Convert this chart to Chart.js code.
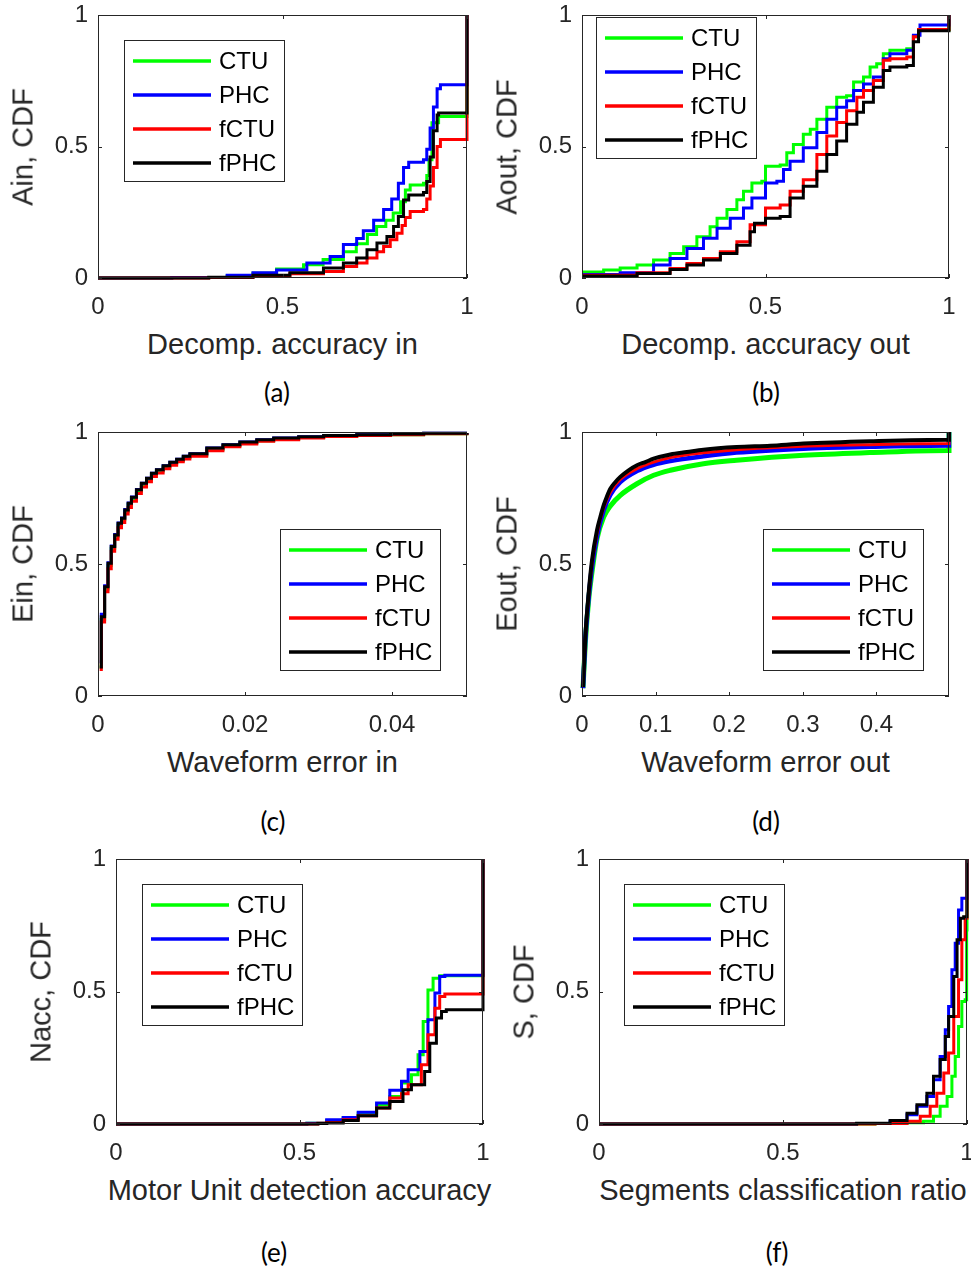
<!DOCTYPE html>
<html>
<head>
<meta charset="utf-8">
<script src="https://cdn.jsdelivr.net/npm/chart.js@4.4.1/dist/chart.umd.min.js"></script>
<style>
  html, body { margin: 0; padding: 0; background: #fff; overflow: hidden; }
  body { width: 971px; height: 1268px; position: relative; }
  canvas { position: absolute; }
  .xlbl, .ylbl { position: absolute; font-family: "Liberation Sans", Arial, sans-serif; font-size: 29px;
    line-height: 29px; color: #262626; white-space: nowrap; transform: translate(-50%, -50%); }
  .ylbl { transform: translate(-50%, -50%) rotate(-90deg); }
  .cap { position: absolute; font-family: Lato, "Open Sans", sans-serif; font-size: 26px; line-height: 26px;
    color: #000; white-space: nowrap; transform: translate(-50%, -50%); }
</style>
</head>
<body>
<script>
// series shared by all panels
const seriesNames = ['CTU', 'PHC', 'fCTU', 'fPHC'];

// (a) decomposition accuracy in, [x, cdf]
const aCTU = [[0,0],[0.2,0.002],[0.35,0.008],[0.42,0.018],[0.484,0.034],[0.557,0.05],[0.61,0.07],[0.665,0.1],[0.7,0.13],[0.73,0.165],[0.755,0.196],[0.78,0.22],[0.8,0.247],[0.82,0.29],[0.833,0.335],[0.846,0.354],[0.882,0.36],[0.891,0.39],[0.897,0.45],[0.905,0.59],[0.923,0.614],[1,1]];
const aPHC = [[0,0],[0.2,0.002],[0.35,0.01],[0.42,0.02],[0.484,0.03],[0.566,0.057],[0.629,0.082],[0.665,0.127],[0.701,0.15],[0.719,0.18],[0.747,0.22],[0.774,0.26],[0.796,0.3],[0.814,0.36],[0.828,0.42],[0.842,0.44],[0.882,0.45],[0.891,0.49],[0.9,0.57],[0.909,0.65],[0.919,0.72],[0.928,0.735],[1,1]];
const aFCTU = [[0,0],[0.3,0.002],[0.42,0.008],[0.52,0.016],[0.611,0.025],[0.665,0.044],[0.701,0.057],[0.729,0.076],[0.756,0.1],[0.774,0.12],[0.792,0.145],[0.81,0.17],[0.824,0.2],[0.833,0.23],[0.846,0.253],[0.882,0.26],[0.891,0.3],[0.9,0.35],[0.909,0.42],[0.919,0.5],[0.928,0.527],[1,1]];
const aFPHC = [[0,0],[0.3,0.003],[0.42,0.01],[0.52,0.02],[0.611,0.038],[0.665,0.057],[0.701,0.076],[0.729,0.107],[0.756,0.133],[0.783,0.158],[0.801,0.196],[0.814,0.234],[0.828,0.297],[0.842,0.316],[0.882,0.325],[0.891,0.367],[0.9,0.46],[0.909,0.56],[0.919,0.62],[0.923,0.627],[1,1]];

// (b) decomposition accuracy out
const bCTU = [[0,0.023],[0.059,0.03],[0.104,0.038],[0.15,0.049],[0.195,0.068],[0.24,0.093],[0.277,0.119],[0.313,0.157],[0.349,0.195],[0.368,0.227],[0.395,0.26],[0.422,0.298],[0.44,0.33],[0.463,0.361],[0.49,0.368],[0.5,0.425],[0.54,0.43],[0.558,0.476],[0.576,0.508],[0.603,0.547],[0.622,0.566],[0.64,0.604],[0.667,0.649],[0.694,0.687],[0.721,0.693],[0.74,0.745],[0.767,0.764],[0.785,0.802],[0.803,0.815],[0.821,0.853],[0.839,0.866],[0.885,0.872],[0.903,0.917],[0.917,0.943],[1,1]];
const bPHC = [[0,0.013],[0.104,0.02],[0.195,0.049],[0.24,0.074],[0.286,0.112],[0.331,0.151],[0.368,0.189],[0.404,0.227],[0.44,0.266],[0.463,0.304],[0.5,0.361],[0.531,0.368],[0.549,0.413],[0.567,0.444],[0.603,0.495],[0.64,0.553],[0.667,0.604],[0.694,0.649],[0.721,0.674],[0.74,0.713],[0.767,0.738],[0.794,0.764],[0.821,0.834],[0.839,0.853],[0.885,0.866],[0.903,0.923],[0.921,0.962],[1,1]];
const bFCTU = [[0,0.01],[0.15,0.02],[0.24,0.036],[0.286,0.055],[0.331,0.074],[0.377,0.1],[0.422,0.138],[0.458,0.202],[0.5,0.266],[0.54,0.278],[0.567,0.33],[0.603,0.374],[0.64,0.47],[0.667,0.54],[0.694,0.591],[0.721,0.636],[0.749,0.687],[0.767,0.713],[0.794,0.751],[0.821,0.828],[0.839,0.834],[0.885,0.84],[0.903,0.917],[0.917,0.945],[1,1]];
const bFPHC = [[0,0.008],[0.15,0.017],[0.24,0.032],[0.286,0.049],[0.331,0.068],[0.377,0.093],[0.422,0.125],[0.458,0.176],[0.47,0.208],[0.5,0.227],[0.54,0.234],[0.567,0.304],[0.603,0.349],[0.64,0.406],[0.667,0.47],[0.694,0.521],[0.721,0.585],[0.749,0.63],[0.767,0.668],[0.794,0.725],[0.821,0.789],[0.839,0.802],[0.885,0.808],[0.903,0.898],[0.917,0.94],[1,1]];

// (c) waveform error in
const cCTU = [[0.00023,0.11],[0.00045,0.29],[0.0009,0.405],[0.00136,0.495],[0.0018,0.56],[0.00227,0.605],[0.00273,0.648],[0.0032,0.668],[0.00364,0.7],[0.0041,0.725],[0.00455,0.748],[0.00523,0.776],[0.0059,0.801],[0.0066,0.82],[0.00727,0.839],[0.00795,0.852],[0.00886,0.867],[0.00977,0.88],[0.0107,0.892],[0.0116,0.903],[0.0125,0.913],[0.0148,0.934],[0.017,0.948],[0.0193,0.958],[0.0216,0.967],[0.0239,0.973],[0.0273,0.979],[0.0307,0.984],[0.0352,0.988],[0.0398,0.99],[0.0443,0.993],[0.0502,0.995]];
const cPHC = [[0.00023,0.13],[0.00045,0.31],[0.0009,0.418],[0.00136,0.505],[0.0018,0.568],[0.00227,0.612],[0.00273,0.655],[0.0032,0.674],[0.00364,0.706],[0.0041,0.731],[0.00455,0.754],[0.00523,0.782],[0.0059,0.806],[0.0066,0.825],[0.00727,0.844],[0.00795,0.857],[0.00886,0.872],[0.00977,0.885],[0.0107,0.897],[0.0116,0.908],[0.0125,0.918],[0.0148,0.939],[0.017,0.952],[0.0193,0.962],[0.0216,0.971],[0.0239,0.977],[0.0273,0.982],[0.0307,0.987],[0.0352,0.99],[0.0398,0.992],[0.0443,0.995],[0.0502,0.996]];
const cFCTU = [[0.00023,0.1],[0.00045,0.28],[0.0009,0.395],[0.00136,0.482],[0.0018,0.548],[0.00227,0.594],[0.00273,0.637],[0.0032,0.657],[0.00364,0.689],[0.0041,0.714],[0.00455,0.738],[0.00523,0.767],[0.0059,0.792],[0.0066,0.812],[0.00727,0.831],[0.00795,0.845],[0.00886,0.861],[0.00977,0.874],[0.0107,0.887],[0.0116,0.898],[0.0125,0.908],[0.0148,0.929],[0.017,0.944],[0.0193,0.955],[0.0216,0.965],[0.0239,0.971],[0.0273,0.977],[0.0307,0.983],[0.0352,0.987],[0.0398,0.99],[0.0443,0.993],[0.0502,0.995]];
const cFPHC = [[0.00023,0.11],[0.00045,0.3],[0.0009,0.414],[0.00136,0.503],[0.0018,0.566],[0.00227,0.61],[0.00273,0.654],[0.0032,0.673],[0.00364,0.705],[0.0041,0.73],[0.00455,0.753],[0.00523,0.781],[0.0059,0.806],[0.0066,0.825],[0.00727,0.844],[0.00795,0.857],[0.00886,0.872],[0.00977,0.885],[0.0107,0.897],[0.0116,0.908],[0.0125,0.918],[0.0148,0.939],[0.017,0.952],[0.0193,0.962],[0.0216,0.971],[0.0239,0.977],[0.0273,0.982],[0.0307,0.987],[0.0352,0.99],[0.0398,0.992],[0.0443,0.995],[0.0502,0.996]];

// (d) waveform error out
const dCTU = [[0.0014,0.03],[0.0045,0.2],[0.009,0.362],[0.0136,0.47],[0.0204,0.596],[0.0294,0.678],[0.0385,0.72],[0.052,0.76],[0.0747,0.804],[0.0973,0.836],[0.12,0.855],[0.165,0.88],[0.21,0.893],[0.301,0.912],[0.391,0.922],[0.4986,0.93],[0.4986,1]];
const dPHC = [[0.0014,0.03],[0.0045,0.21],[0.009,0.37],[0.0136,0.49],[0.0204,0.605],[0.0294,0.703],[0.0385,0.762],[0.052,0.81],[0.0747,0.852],[0.0973,0.876],[0.12,0.89],[0.165,0.908],[0.21,0.922],[0.301,0.937],[0.391,0.944],[0.4986,0.949],[0.4986,1]];
const dFCTU = [[0.0014,0.034],[0.0045,0.215],[0.009,0.375],[0.0136,0.5],[0.0204,0.615],[0.0294,0.713],[0.0385,0.772],[0.052,0.82],[0.0747,0.861],[0.0973,0.886],[0.12,0.903],[0.165,0.921],[0.21,0.933],[0.301,0.946],[0.391,0.952],[0.4986,0.956],[0.4986,1]];
const dFPHC = [[0.0014,0.034],[0.0045,0.223],[0.009,0.388],[0.0136,0.514],[0.0204,0.628],[0.0249,0.678],[0.0294,0.722],[0.0339,0.756],[0.0385,0.785],[0.0452,0.81],[0.052,0.83],[0.0633,0.855],[0.0747,0.874],[0.086,0.886],[0.0973,0.899],[0.12,0.915],[0.1425,0.924],[0.165,0.933],[0.21,0.943],[0.2557,0.948],[0.301,0.956],[0.391,0.965],[0.4986,0.971],[0.4986,1]];

// (e) motor unit detection accuracy
const eCTU = [[0,0],[0.52,0.003],[0.574,0.013],[0.619,0.023],[0.66,0.041],[0.71,0.073],[0.746,0.104],[0.778,0.155],[0.805,0.186],[0.823,0.261],[0.837,0.387],[0.85,0.506],[0.864,0.55],[0.882,0.559],[1,1]];
const ePHC = [[0,0],[0.52,0.003],[0.574,0.016],[0.619,0.025],[0.66,0.044],[0.71,0.079],[0.746,0.127],[0.778,0.161],[0.796,0.205],[0.828,0.274],[0.85,0.393],[0.869,0.494],[0.882,0.557],[0.896,0.561],[1,1]];
const eFCTU = [[0,0],[0.55,0.003],[0.574,0.006],[0.619,0.016],[0.66,0.031],[0.71,0.06],[0.746,0.098],[0.778,0.114],[0.796,0.148],[0.832,0.224],[0.85,0.337],[0.869,0.437],[0.882,0.481],[0.896,0.491],[1,1]];
const eFPHC = [[0,0],[0.55,0.002],[0.574,0.004],[0.619,0.013],[0.66,0.031],[0.71,0.06],[0.746,0.085],[0.782,0.129],[0.805,0.148],[0.841,0.198],[0.855,0.305],[0.873,0.4],[0.887,0.425],[0.9,0.431],[1,1]];

// (f) segments classification ratio
const fCTU = [[0,0],[0.75,0.002],[0.791,0.003],[0.837,0.005],[0.882,0.01],[0.909,0.029],[0.927,0.067],[0.946,0.104],[0.959,0.18],[0.968,0.255],[0.977,0.368],[0.986,0.462],[0.995,0.469],[0.999,0.732],[1,1]];
const fPHC = [[0,0],[0.7,0.002],[0.791,0.01],[0.837,0.035],[0.864,0.067],[0.891,0.104],[0.909,0.167],[0.927,0.255],[0.941,0.356],[0.95,0.443],[0.959,0.582],[0.968,0.682],[0.977,0.808],[0.986,0.852],[1,1]];
const fFCTU = [[0,0],[0.75,0.002],[0.837,0.01],[0.873,0.029],[0.9,0.067],[0.918,0.116],[0.937,0.192],[0.95,0.268],[0.964,0.406],[0.977,0.544],[0.986,0.695],[0.995,0.776],[1,1]];
const fFPHC = [[0,0],[0.7,0.003],[0.791,0.013],[0.837,0.041],[0.864,0.073],[0.891,0.116],[0.909,0.18],[0.927,0.243],[0.941,0.33],[0.95,0.406],[0.964,0.557],[0.973,0.695],[0.982,0.776],[0.991,0.782],[1,1]];

// axis labels and captions
const xTitles = ['Decomp. accuracy in', 'Decomp. accuracy out', 'Waveform error in', 'Waveform error out', 'Motor Unit detection accuracy', 'Segments classification ratio'];
const yTitles = ['Ain, CDF', 'Aout, CDF', 'Ein, CDF', 'Eout, CDF', 'Nacc, CDF', 'S, CDF'];
const captions = ['(a)', '(b)', '(c)', '(d)', '(e)', '(f)'];
const xMax = [1, 1, 0.0502, 0.4986, 1, 1];
const xStep = [0.5, 0.5, 0.02, 0.1, 0.5, 0.5];
const yTicks = [0, 0.5, 1];

const colors = ['#00ff00', '#0000ff', '#ff0000', '#000000'];
const FONT = '"Liberation Sans", Arial, sans-serif';
const GREY = '#262626';

// plot area in page pixels, legend offset inside the axes, caption position
const panels = [
  { data: [aCTU, aPHC, aFCTU, aFPHC], left: 98, top: 15, w: 369, h: 263, leg: [26, 25], cap: [277, 392], stepped: true },
  { data: [bCTU, bPHC, bFCTU, bFPHC], left: 582, top: 15, w: 367, h: 263, leg: [14, 2], cap: [766, 392], stepped: true },
  { data: [cCTU, cPHC, cFCTU, cFPHC], left: 98, top: 432, w: 369, h: 264, leg: [182, 97], cap: [273, 821], stepped: true },
  { data: [dCTU, dPHC, dFCTU, dFPHC], left: 582, top: 432, w: 367, h: 264, leg: [181, 97], cap: [766, 821], stepped: false, widths: [5, 4.5, 3, 4] },
  { data: [eCTU, ePHC, eFCTU, eFPHC], left: 116, top: 859, w: 367, h: 265, leg: [26, 25], cap: [274, 1252], stepped: true },
  { data: [fCTU, fPHC, fFCTU, fFPHC], left: 599, top: 859, w: 368, h: 265, leg: [25, 25], cap: [777, 1252], stepped: true }
];

// box round the axes with inward ticks on all four sides, like matlab
const axesBox = {
  id: 'axesBox',
  afterDraw(chart) {
    const { ctx, chartArea: a, scales } = chart;
    const tl = 4;
    ctx.save();
    ctx.strokeStyle = GREY;
    ctx.lineWidth = 1;
    ctx.strokeRect(a.left + 0.5, a.top + 0.5, a.right - a.left - 1, a.bottom - a.top - 1);
    ctx.beginPath();
    scales.x.ticks.forEach(t => {
      const px = Math.round(scales.x.getPixelForValue(t.value)) + 0.5;
      ctx.moveTo(px, a.bottom); ctx.lineTo(px, a.bottom - tl);
      ctx.moveTo(px, a.top); ctx.lineTo(px, a.top + tl);
    });
    scales.y.ticks.forEach(t => {
      const py = Math.round(scales.y.getPixelForValue(t.value)) + 0.5;
      ctx.moveTo(a.left, py); ctx.lineTo(a.left + tl, py);
      ctx.moveTo(a.right, py); ctx.lineTo(a.right - tl, py);
    });
    ctx.stroke();
    ctx.restore();
  }
};

// legend box inside the axes
const boxLegend = {
  id: 'boxLegend',
  afterDraw(chart, args, opts) {
    const { ctx, chartArea: a } = chart;
    const x0 = a.left + opts.dx, y0 = a.top + opts.dy;
    ctx.save();
    ctx.fillStyle = '#fff';
    ctx.fillRect(x0, y0, 160, 141);
    ctx.strokeStyle = GREY;
    ctx.lineWidth = 1;
    ctx.strokeRect(x0 + 0.5, y0 + 0.5, 160, 141);
    ctx.font = '24px ' + FONT;
    ctx.textBaseline = 'middle';
    seriesNames.forEach((name, i) => {
      const cy = y0 + 21 + i * 34;
      ctx.strokeStyle = colors[i];
      ctx.lineWidth = 3.5;
      ctx.beginPath();
      ctx.moveTo(x0 + 9, cy);
      ctx.lineTo(x0 + 87, cy);
      ctx.stroke();
      ctx.fillStyle = '#000';
      ctx.fillText(name, x0 + 95, cy + 1);
    });
    ctx.restore();
  }
};

const fmt = v => String(+(+v).toFixed(4));

// keep the plot area exactly where the layout puts it
function noPad(s) {
  s.paddingLeft = 0; s.paddingRight = 0; s.paddingTop = 0; s.paddingBottom = 0;
}

function addText(cls, text, x, y) {
  const d = document.createElement('div');
  d.className = cls;
  d.textContent = text;
  d.style.left = x + 'px';
  d.style.top = y + 'px';
  document.body.appendChild(d);
}

panels.forEach((p, k) => {
  const padT = 16, padR = 16, yW = 60, xH = 45;
  const cv = document.createElement('canvas');
  cv.width = p.w + yW + padR;
  cv.height = p.h + padT + xH;
  cv.style.left = (p.left - yW) + 'px';
  cv.style.top = (p.top - padT) + 'px';
  document.body.appendChild(cv);

  new Chart(cv.getContext('2d'), {
    type: 'line',
    data: {
      datasets: p.data.map((pts, i) => ({
        label: seriesNames[i],
        data: pts.map(q => ({ x: q[0], y: q[1] })),
        borderColor: colors[i],
        borderWidth: p.widths ? p.widths[i] : 3,
        pointRadius: 0,
        fill: false,
        stepped: p.stepped ? 'before' : false,
        cubicInterpolationMode: p.stepped ? 'default' : 'monotone',
        order: 3 - i,
        clip: 6
      }))
    },
    options: {
      responsive: false,
      animation: false,
      devicePixelRatio: 1,
      layout: { padding: { top: padT, right: padR, left: 0, bottom: 0 } },
      plugins: {
        legend: { display: false },
        tooltip: { enabled: false },
        boxLegend: { dx: p.leg[0], dy: p.leg[1] }
      },
      scales: {
        x: {
          type: 'linear',
          min: 0,
          max: xMax[k],
          grid: { display: false, drawTicks: false },
          border: { display: false },
          ticks: { stepSize: xStep[k], includeBounds: false, padding: 15, maxRotation: 0,
                   color: GREY, font: { family: FONT, size: 24 }, callback: fmt },
          afterFit: s => { s.height = xH; noPad(s); }
        },
        y: {
          type: 'linear',
          min: 0,
          max: 1,
          grid: { display: false, drawTicks: false },
          border: { display: false },
          afterBuildTicks: s => { s.ticks = yTicks.map(v => ({ value: v })); },
          ticks: { padding: 10, color: GREY, font: { family: FONT, size: 24 }, callback: fmt },
          afterFit: s => { s.width = yW; noPad(s); }
        }
      }
    },
    plugins: [axesBox, boxLegend]
  });

  addText('xlbl', xTitles[k], p.left + p.w / 2, p.top + p.h + 66);
  addText('ylbl', yTitles[k], p.left - 75, p.top + p.h / 2);
  addText('cap', captions[k], p.cap[0], p.cap[1]);
});
</script>
</body>
</html>
